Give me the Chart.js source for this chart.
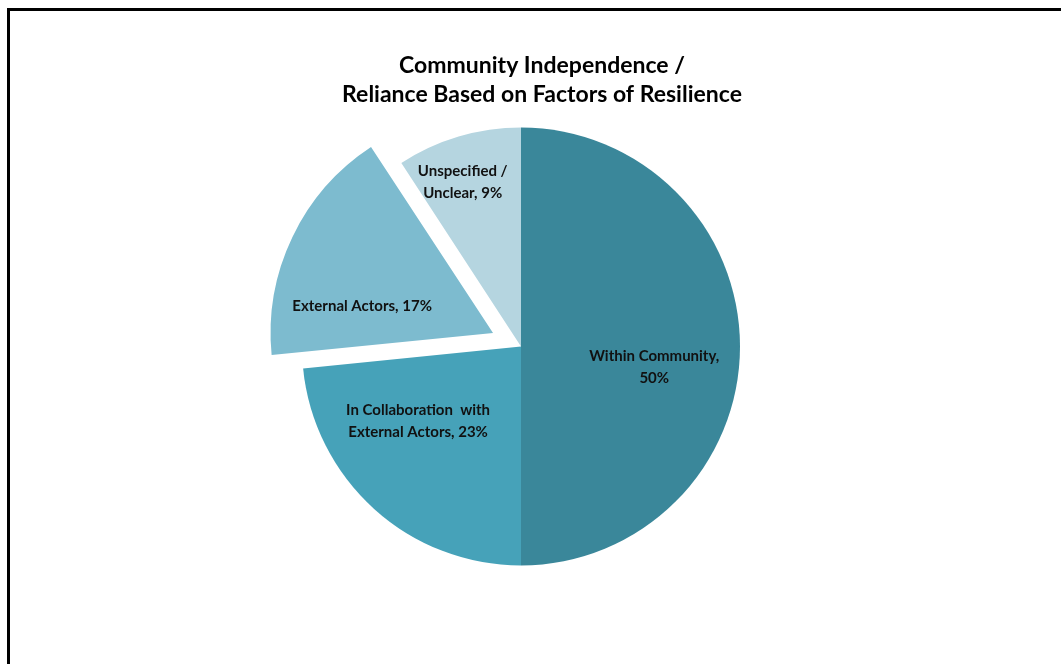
<!DOCTYPE html>
<html>
<head>
<meta charset="utf-8">
<script src="https://cdn.jsdelivr.net/npm/chart.js@4"></script>
<style>
    html, body { margin: 0; padding: 0; overflow: hidden; background: #fff; }
    #frame {
        position: absolute; left: 7px; top: 8px;
        width: 1100px; height: 700px;
        border: 3px solid #000;
    }
    #wrap { position: absolute; left: 0; top: 0; width: 1084px; height: 664px; }
</style>
</head>
<body>
<div id="frame"></div>
<div id="wrap"><canvas id="graficoResiliencia"></canvas></div>
<script>
// Dados do gráfico (valores estimados pela geometria das fatias; rótulos arredondados)
const categorias = ['Within Community', 'In Collaboration  with External Actors', 'External Actors', 'Unspecified / Unclear'];
const valores = [50.0, 23.4, 17.4, 9.2];
const rotulos = [
    ['Within Community,', '{p}'],
    ['In Collaboration  with', 'External Actors, {p}'],
    ['External Actors, {p}'],
    ['Unspecified /', 'Unclear, {p}']
];
const cores = ['#3a879a', '#46a2b9', '#7dbbcf', '#b5d5e0'];
const titulo = ['Community Independence /', 'Reliance Based on Factors of Resilience'];

// posição dos rótulos: fração do raio e desvio angular (graus)
const posRotulo = [
    { f: 0.616, a: 9 },
    { f: 0.58, a: 12 },
    { f: 0.61, a: -14 },
    { f: 0.795, a: -3 }
];

const rotulosPlugin = {
    id: 'rotulosFatias',
    afterDatasetsDraw(chart) {
        const ctx = chart.ctx;
        const meta = chart.getDatasetMeta(0);
        const total = valores.reduce((a, b) => a + b, 0);

        ctx.save();
        // título centralizado na moldura (não no gráfico)
        ctx.font = 'bold 23px Lato';
        ctx.fillStyle = '#000';
        ctx.textAlign = 'center';
        ctx.textBaseline = 'middle';
        titulo.forEach((t, j) => ctx.fillText(t, chart.width / 2, 66 + j * 29));

        ctx.font = 'bold 15px Lato';
        ctx.fillStyle = '#111';
        meta.data.forEach((arc, i) => {
            const p = arc.getProps(['x', 'y', 'startAngle', 'endAngle', 'outerRadius']);
            const mid = (p.startAngle + p.endAngle) / 2;
            const desloc = (arc.options.offset || 0) / 4;
            const cx = p.x + Math.cos(mid) * desloc;
            const cy = p.y + Math.sin(mid) * desloc;
            const ang = mid + posRotulo[i].a * Math.PI / 180;
            const r = p.outerRadius * posRotulo[i].f;
            const x = cx + Math.cos(ang) * r;
            const y = cy + Math.sin(ang) * r;
            const pct = Math.round(valores[i] / total * 100) + '%';
            const linhas = rotulos[i].map(t => t.replace('{p}', pct));
            const alt = 22;
            linhas.forEach((t, j) => {
                ctx.fillText(t, x, y + (j - (linhas.length - 1) / 2) * alt);
            });
        });
        ctx.restore();
    }
};

const ctx = document.getElementById('graficoResiliencia').getContext('2d');
window.graficoResiliencia = new Chart(ctx, {
    type: 'pie',
    data: {
        labels: categorias,
        datasets: [{
            data: valores,
            backgroundColor: cores,
            borderWidth: 0,
            offset: [0, 0, 124, 0], // 124/4 = 31px de deslocamento
            radius: 219
        }]
    },
    options: {
        responsive: true,
        maintainAspectRatio: false,
        animation: false,
        events: [],
        layout: {
            padding: { left: 0, right: 42, top: 120, bottom: 91 }
        },
        plugins: {
            legend: { display: false },
            tooltip: { enabled: false },
            title: { display: false }
        }
    },
    plugins: [rotulosPlugin]
});
</script>
</body>
</html>
